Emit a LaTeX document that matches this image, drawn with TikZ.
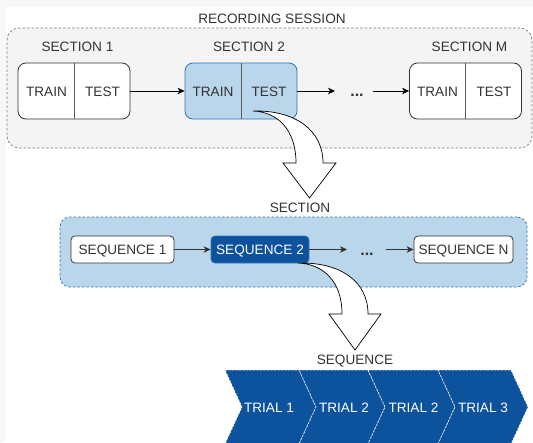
\documentclass[tikz,border=0pt]{standalone}
\usepackage{fontspec}
\setmainfont{Liberation Sans}
\usetikzlibrary{arrows.meta}
\definecolor{txt}{HTML}{333333}
\definecolor{bggray}{HTML}{F7F7F7}
\definecolor{recfill}{HTML}{F4F4F4}
\definecolor{recborder}{HTML}{7A7A7A}
\definecolor{lblue}{HTML}{BAD6EA}
\definecolor{mblue}{HTML}{3573B9}
\definecolor{dblue}{HTML}{0D529D}
\tikzset{
  lbl/.style={inner sep=0pt, text=txt, text depth=0pt},
  container/.style={dashed, dash pattern=on 2.5pt off 2pt, line width=0.7pt, rounded corners=12pt, inner sep=0pt},
  secbox/.style={draw=txt, fill=white, line width=0.8pt, rounded corners=8pt, minimum width=112pt, minimum height=56pt, inner sep=0pt},
  divider/.style={draw=txt!80, line width=0.7pt},
  seqbox/.style={draw=txt, fill=white, line width=0.8pt, rounded corners=4pt, minimum height=27pt, inner sep=0pt, text=txt, text depth=0pt},
  arr/.style={draw=black, line width=0.8pt, -{Stealth[length=7pt,width=6.5pt,inset=2pt]}},
  arrg/.style={draw=txt, line width=0.8pt, -{Stealth[length=7pt,width=6.5pt,inset=2pt]}},
  bigarrow/.style={draw=black, fill=white, line width=0.7pt, line join=miter},
  chev/.style={fill=dblue, draw=white, dashed, dash pattern=on 2pt off 1.5pt, line width=0.6pt},
  chevtxt/.style={inner sep=0pt, text=white, text depth=0pt},
  dots/.style={inner sep=0pt, text=txt, font=\fontsize{16}{18}\selectfont\bfseries},
}
\begin{document}
\begin{tikzpicture}[x=1pt,y=-1pt,font=\fontsize{13.6}{16}\selectfont]
\useasboundingbox (0,0) rectangle (533,442);
\fill[bggray] (0,0) rectangle (533,442);
\fill[white] (6,7) rectangle (533,442);

% recording session container
\node[container, draw=recborder, fill=recfill, minimum width=525pt, minimum height=120pt] (rec) at (269.5,88) {};
\node[lbl] (reclbl) at (272,18.5) {RECORDING SESSION};

% sections
\node[lbl] (l1) at (77.5,46.5) {SECTION 1};
\node[lbl] (l2) at (249,46.5) {SECTION 2};
\node[lbl] (lM) at (469.5,46.5) {SECTION M};

\node[secbox] (s1) at (74,91) {};
\node[secbox, draw=mblue, fill=lblue] (s2) at (241,91) {};
\node[secbox] (sM) at (465.5,91) {};
\draw[divider] (s1.north) -- (s1.south);
\draw[divider] (s2.north) -- (s2.south);
\draw[divider] (sM.north) -- (sM.south);

\node[lbl] (s1a) at (46.5,92) {TRAIN};
\node[lbl] (s1b) at (102.5,92) {TEST};
\node[lbl] (s2a) at (213,92) {TRAIN};
\node[lbl] (s2b) at (269,92) {TEST};
\node[lbl] (sMa) at (437.5,92) {TRAIN};
\node[lbl] (sMb) at (494,92) {TEST};

\coordinate (d1a) at (335,91);
\coordinate (d1b) at (373,91);
\draw[arr] (s1.east) -- (s2.west);
\draw[arr] (s2.east) -- (d1a);
\node[dots, anchor=base] (dots1) at (357,96) {...};
\draw[arr] (d1b) -- (sM.west);

% big arrow 1
\coordinate (ba1) at (253,111);
\draw[bigarrow] (ba1) .. controls (295,110) and (323,130) .. (323,163)
  -- (336,163) -- (309.5,198) -- (283,163) -- (296,163)
  .. controls (296,130) and (278,112) .. (ba1) -- cycle;

% section container
\node[lbl] (seclbl) at (300,207.5) {SECTION};
\node[container, draw=mblue, fill=lblue, rounded corners=10pt, minimum width=467pt, minimum height=70pt] (sec) at (293.5,252) {};

\node[seqbox, minimum width=103pt] (q1) at (122.5,249.5) {SEQUENCE 1};
\node[seqbox, minimum width=98pt, fill=dblue, draw=mblue, text=white] (q2) at (260,249.5) {SEQUENCE 2};
\node[seqbox, minimum width=99pt] (qN) at (463.5,249.5) {SEQUENCE N};

\coordinate (d2a) at (347,249.5);
\coordinate (d2b) at (386,249.5);
\draw[arrg] (q1.east) -- (q2.west);
\draw[arrg] (q2.east) -- (d2a);
\node[dots, anchor=base] (dots2) at (367,255) {...};
\draw[arrg] (d2b) -- (qN.west);

% big arrow 2
\coordinate (ba2) at (298,263);
\draw[bigarrow] (ba2) .. controls (340,262) and (368,281) .. (368,314)
  -- (381,314) -- (355,350) -- (329,314) -- (342,314)
  .. controls (342,281) and (323,264) .. (ba2) -- cycle;

% sequence label and chevrons
\node[lbl] (seqlbl) at (355,360) {SEQUENCE};
\begin{scope}
\clip (0,0) rectangle (533,442);
\draw[chev] (225,370) -- (299,370) -- (316,407) -- (299,444) -- (225,444) -- (242,407) -- cycle;
\draw[chev] (299,370) -- (368,370) -- (385,407) -- (368,444) -- (299,444) -- (316,407) -- cycle;
\draw[chev] (368,370) -- (438,370) -- (455,407) -- (438,444) -- (368,444) -- (385,407) -- cycle;
\draw[chev] (438,370) -- (511,370) -- (528,407) -- (511,444) -- (438,444) -- (455,407) -- cycle;
\end{scope}
\node[chevtxt] (t1) at (269,408) {TRIAL 1};
\node[chevtxt] (t2) at (344,408) {TRIAL 2};
\node[chevtxt] (t3) at (413.5,408) {TRIAL 2};
\node[chevtxt] (t4) at (483,408) {TRIAL 3};
\end{tikzpicture}
\end{document}
